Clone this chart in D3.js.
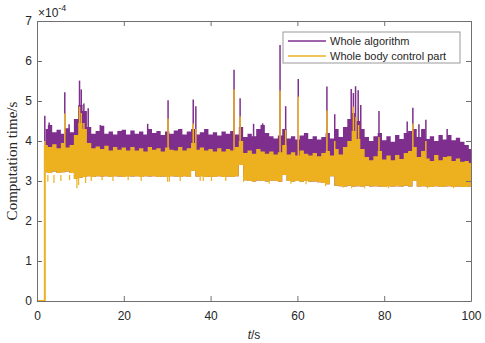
<!doctype html>
<html lang="en">
<head>
<meta charset="utf-8">
<title>Computation time</title>
<style>
body { margin: 0; background: #fff; font-family: "Liberation Sans", Arial, sans-serif; }
</style>
</head>
<body>
<div id="chart"></div>
<script src="https://cdnjs.cloudflare.com/ajax/libs/d3/7.8.5/d3.min.js"></script>
<script>
// values in units of 1e-4 s, one envelope sample per second starting at t = 2 s
var t0 = 2;
var algTop = [4.30,4.40,4.22,4.28,4.18,4.32,4.22,4.55,4.90,4.75,
              4.35,4.18,4.25,4.38,4.18,4.24,4.16,4.25,4.28,4.16,
              4.26,4.18,4.24,4.16,4.30,4.20,4.25,4.15,4.24,4.18,
              4.26,4.30,4.16,4.24,4.30,4.16,4.22,4.30,4.16,4.22,
              4.14,4.24,4.18,4.25,4.16,4.35,4.10,4.18,4.12,4.30,
              4.40,4.20,4.12,4.06,4.14,4.30,4.06,4.12,4.04,4.14,
              4.20,4.05,4.12,4.04,4.10,4.20,4.06,4.30,4.10,4.35,
              4.55,4.70,4.50,4.30,4.10,4.00,4.12,4.20,4.02,4.12,
              3.98,4.15,4.05,4.20,4.25,4.30,4.10,4.30,4.05,4.12,
              4.00,4.15,4.04,4.15,4.02,4.08,3.98,3.90,3.80];
var wbcTop = [3.90,3.85,3.92,3.82,3.95,3.84,3.90,4.15,4.45,4.30,
              3.95,3.82,3.86,3.80,3.88,3.76,3.85,3.78,3.84,3.76,
              3.85,3.76,3.82,3.74,3.85,3.78,3.82,3.74,3.84,3.78,
              3.76,3.85,3.76,3.82,3.95,3.78,3.84,3.76,3.80,3.74,
              3.82,3.74,3.80,3.76,3.85,4.00,3.70,3.76,3.68,3.80,
              3.74,3.68,3.74,3.66,3.72,3.90,3.66,3.72,3.64,3.76,
              3.68,3.64,3.70,3.62,3.70,3.75,3.64,3.80,3.66,3.85,
              4.00,4.25,4.05,3.80,3.60,3.52,3.62,3.75,3.54,3.64,
              3.52,3.65,3.55,3.70,3.75,3.85,3.60,3.75,3.56,3.50,
              3.65,3.52,3.60,3.62,3.50,3.56,3.48,3.50,3.45];
var wbcBottom = [3.22,3.20,3.24,3.20,3.22,3.24,3.20,3.05,3.08,3.10,
                 3.12,3.10,3.12,3.11,3.12,3.10,3.12,3.11,3.10,3.12,
                 3.11,3.12,3.10,3.12,3.11,3.12,3.10,3.11,3.10,3.12,
                 3.11,3.10,3.12,3.10,3.25,3.11,3.12,3.10,3.11,3.10,
                 3.12,3.10,3.11,3.10,3.12,3.40,3.02,3.00,2.99,3.01,
                 3.00,2.99,3.01,3.00,2.98,3.15,3.00,2.99,3.00,2.98,
                 3.00,2.98,2.99,2.97,2.95,2.92,3.12,2.88,2.87,2.86,
                 2.88,2.86,2.87,2.86,2.88,2.86,2.87,2.86,2.85,2.87,
                 2.86,2.87,2.86,2.88,2.86,3.00,2.86,2.87,2.86,2.85,
                 2.87,2.85,2.86,2.87,2.85,2.86,2.85,2.85,2.86];

// isolated peaks [t, value]
var algSpikes = [[1.8,4.63],[2.8,4.46],[6.4,5.22],[7.4,4.42],[9.8,5.51],[10.2,5.29],
                 [10.8,4.94],[11.8,4.82],[14.6,4.40],[25.5,4.43],[30.2,5.02],[36.0,5.04],
                 [36.6,4.87],[45.4,5.78],[46.8,5.07],[49.9,4.43],[52.0,4.44],[56.0,6.40],
                 [57.3,4.87],[60.2,5.55],[66.8,5.36],[68.6,4.67],[72.4,5.30],[72.9,5.20],
                 [73.4,5.37],[74.0,5.27],[74.6,4.90],[78.8,4.75],[85.3,4.49],[86.6,4.83],
                 [88.0,4.42],[89.6,4.53],[94.5,4.30]];
var wbcSpikes = [[1.8,4.00],[6.4,4.69],[9.8,4.86],[10.2,4.70],[10.8,4.45],[30.2,4.56],
                 [36.0,4.44],[36.6,4.30],[45.4,5.29],[46.8,4.62],[56.0,5.26],[57.3,4.28],
                 [60.2,5.11],[66.8,4.76],[68.6,4.00],[72.9,4.86],[73.5,4.60],[74.1,4.40],
                 [78.8,4.10],[86.6,4.44],[89.6,4.00]];
// short downward dips of the lower series [t, value]
var wbcDips = [[2.5,2.98],[3.9,2.95],[5.5,3.00],[7.5,3.02],[9.2,2.82],[9.6,2.90],
               [11.2,2.95],[12.5,3.00],[15.0,3.02],[17.5,3.00],[21.0,3.02],[24.0,3.00],
               [30.1,2.98],[30.5,2.98],[33.0,3.00],[37.6,3.00],[38.3,3.00],[40.2,3.00],
               [43.5,3.00],[47.6,2.98],[49.8,2.98],[53.5,2.93],[58.5,2.93],[62.0,2.92],
               [66.5,2.87],[70.5,2.83],[72.5,2.82],[75.5,2.82],[81.0,2.82],[90.0,2.82],
               [96.0,2.82]];
// both series read 0 before the controller starts
var startup = [[0,0],[1.8,0]];

var xTicks = [0,20,40,60,80,100];
var yTicks = [0,1,2,3,4,5,6,7];
var names = ["Whole algorithm", "Whole body control part"];
var colors = ["#7E2F8E", "#EDB120"];

var width = 485, height = 343,
    margin = {left: 37, right: 14, top: 21, bottom: 42};

var svg = d3.select("#chart").append("svg")
    .attr("width", width)
    .attr("height", height);

var x = d3.scaleLinear().domain([0, 100]).range([margin.left, width - margin.right]);
var y = d3.scaleLinear().domain([0, 7]).range([height - margin.bottom, margin.top]);

var samples = algTop.map(function(v, i) {
    return {t: t0 + i, alg: v, top: wbcTop[i], bottom: wbcBottom[i]};
});

svg.append("clipPath").attr("id", "clip")
  .append("rect")
    .attr("x", margin.left).attr("y", margin.top)
    .attr("width", x(100) - x(0)).attr("height", y(0) - y(7));

var plot = svg.append("g").attr("clip-path", "url(#clip)");

function ticks(cls, data, from, color, w) {
    plot.selectAll("." + cls)
        .data(data)
      .enter().append("line")
        .attr("class", cls)
        .attr("x1", function(d) { return x(d[0]); })
        .attr("x2", function(d) { return x(d[0]); })
        .attr("y1", y(from))
        .attr("y2", function(d) { return y(d[1]); })
        .attr("stroke", color)
        .attr("stroke-width", w);
}

// purple band, then its peaks
plot.append("path")
    .datum(samples)
    .attr("fill", colors[0])
    .attr("d", d3.area()
        .curve(d3.curveStep)
        .x(function(d) { return x(d.t); })
        .y0(function(d) { return y(d.bottom); })
        .y1(function(d) { return y(d.alg); }));
ticks("alg-spike", algSpikes, 3.6, colors[0], 1.5);

// yellow band on top
plot.append("path")
    .datum(samples)
    .attr("fill", colors[1])
    .attr("d", d3.area()
        .curve(d3.curveStep)
        .x(function(d) { return x(d.t); })
        .y0(function(d) { return y(d.bottom); })
        .y1(function(d) { return y(d.top); }));
ticks("wbc-spike", wbcSpikes, 3.5, colors[1], 1.5);
ticks("wbc-dip", wbcDips, 3.15, colors[1], 1.2);

// startup segment at zero, rising into the band
plot.append("path")
    .datum(startup.concat([[1.8, wbcTop[0]]]))
    .attr("fill", "none")
    .attr("stroke", colors[1])
    .attr("stroke-width", 2)
    .attr("d", d3.line()
        .x(function(d) { return x(d[0]); })
        .y(function(d) { return y(d[1]); }));

// axes box
var axisColor = "#707070", textColor = "#262626";

svg.append("g")
    .attr("transform", "translate(0," + y(0) + ")")
    .call(d3.axisBottom(x).tickValues(xTicks).tickSizeInner(-5).tickSizeOuter(0).tickPadding(10));
svg.append("g")
    .attr("transform", "translate(0," + y(7) + ")")
    .call(d3.axisTop(x).tickValues(xTicks).tickSizeInner(-5).tickSizeOuter(0).tickFormat(""));
svg.append("g")
    .attr("transform", "translate(" + x(0) + ",0)")
    .call(d3.axisLeft(y).tickValues(yTicks).tickFormat(d3.format("d"))
        .tickSizeInner(-5).tickSizeOuter(0).tickPadding(5));
svg.append("g")
    .attr("transform", "translate(" + x(100) + ",0)")
    .call(d3.axisRight(y).tickValues(yTicks).tickSizeInner(-5).tickSizeOuter(0).tickFormat(""));

svg.selectAll(".domain, .tick line").attr("stroke", axisColor);
svg.selectAll(".tick text")
    .attr("fill", textColor)
    .style("font-family", "'Liberation Sans', Arial, sans-serif")
    .style("font-size", "12px");

// exponent label
var ex = svg.append("text")
    .attr("x", 38).attr("y", 17)
    .attr("fill", textColor)
    .style("font-size", "12px")
    .text("\u00d710");
ex.append("tspan")
    .attr("dy", -6)
    .style("font-size", "9px")
    .text("-4");

// axis titles
svg.append("text")
    .attr("transform", "rotate(-90)")
    .attr("x", -(y(0) + y(7)) / 2)
    .attr("y", 17)
    .attr("text-anchor", "middle")
    .attr("fill", textColor)
    .style("font-family", "'Liberation Serif', 'Times New Roman', serif")
    .style("font-size", "15px")
    .text("Computation time/s");

var xl = svg.append("text")
    .attr("x", (x(0) + x(100)) / 2)
    .attr("y", 339)
    .attr("text-anchor", "middle")
    .attr("fill", textColor)
    .style("font-size", "12px");
xl.append("tspan").style("font-style", "italic").text("t");
xl.append("tspan").text("/s");

// legend
var legend = svg.append("g").attr("transform", "translate(283,32)");
legend.append("rect")
    .attr("width", 177).attr("height", 31)
    .attr("fill", "#fff")
    .attr("stroke", "#999");
names.forEach(function(name, i) {
    var ly = 9 + i * 15;
    legend.append("line")
        .attr("x1", 5).attr("x2", 43)
        .attr("y1", ly).attr("y2", ly)
        .attr("stroke", colors[i])
        .attr("stroke-width", 1.5);
    legend.append("text")
        .attr("x", 47).attr("y", ly)
        .attr("dy", "0.35em")
        .attr("fill", textColor)
        .style("font-size", "11px")
        .text(name);
});
</script>
</body>
</html>
